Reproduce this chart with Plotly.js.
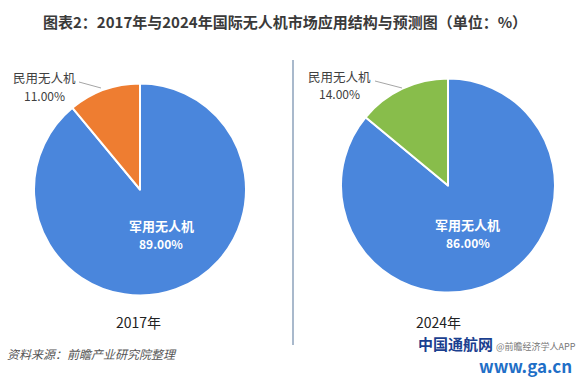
<!DOCTYPE html>
<html>
<head>
<meta charset="utf-8">
<script src="https://cdn.plot.ly/plotly-3.0.1.min.js"></script>
<style>html,body{margin:0;padding:0;background:#fff;}#chart{width:580px;height:378px;}</style>
</head>
<body>
<div id="chart"></div>
<script>
// ---- data ----
const labels = ['军用无人机', '民用无人机'];
const years = ['2017年', '2024年'];
const values2017 = [89, 11];
const values2024 = [86, 14];
const chartTitle = '图表2：2017年与2024年国际无人机市场应用结构与预测图（单位：%）';
const sourceText = '资料来源：前瞻产业研究院整理';

const W = 580, H = 378;
const px = x => x / W;
const py = y => 1 - y / H;
const FONT = '"Noto Sans CJK SC", "Microsoft YaHei", sans-serif';

const blue = '#4a86dc';
const colors2017 = [blue, '#ee7d31'];
const colors2024 = [blue, '#88bd4b'];

function pieTrace(values, colors, dom) {
  return {
    type: 'pie',
    labels: labels,
    values: values,
    sort: false,
    direction: 'clockwise',
    rotation: 0,
    textinfo: 'none',
    hoverinfo: 'none',
    marker: { colors: colors, line: { color: '#ffffff', width: 2 } },
    domain: dom,
    showlegend: false
  };
}

const data = [
  pieTrace(values2017, colors2017, { x: [px(34), px(246)], y: [py(296), py(83)] }),
  pieTrace(values2024, colors2024, { x: [px(341), px(555)], y: [py(293), py(78)] })
];

const pct = v => v.toFixed(2) + '%';

function ann(text, x, y, size, color, extra) {
  return Object.assign({
    text: text, x: px(x), y: py(y), xref: 'paper', yref: 'paper',
    xanchor: 'center', yanchor: 'middle', showarrow: false,
    font: { family: FONT, size: size, color: color }
  }, extra || {});
}

const annotations = [
  ann('<b>' + chartTitle + '</b>', 285, 21, 15, '#3a3a3a'),
  ann(labels[1], 44, 78, 12.5, '#404040'),
  ann(pct(values2017[1]), 44, 95, 12, '#404040'),
  ann('<b>' + labels[0] + '</b>', 161, 225, 13, '#ffffff'),
  ann('<b>' + pct(values2017[0]) + '</b>', 161, 243, 12, '#ffffff'),
  ann(labels[1], 340, 76, 12.5, '#404040'),
  ann(pct(values2024[1]), 340, 94, 12, '#404040'),
  ann('<b>' + labels[0] + '</b>', 468, 224, 13, '#ffffff'),
  ann('<b>' + pct(values2024[0]) + '</b>', 468, 242, 12, '#ffffff'),
  ann(years[0], 138, 322, 14, '#222222'),
  ann(years[1], 438, 322, 14, '#222222'),
  ann('<i>' + sourceText + '</i>', 5, 353, 12, '#555555', { xanchor: 'left' }),
  ann('<b>中国通航网</b>', 416, 343, 15, '#1b3f8f', { xanchor: 'left' }),
  ann('@前瞻经济学人APP', 578, 346, 9, '#777777', { xanchor: 'right' }),
  ann('<b>www.ga.cn</b>', 574, 365, 17, '#1f6fc7', { xanchor: 'right' })
];

const shapes = [
  { type: 'line', xref: 'paper', yref: 'paper', x0: px(293), x1: px(293), y0: py(60), y1: py(345),
    line: { color: '#a9b9cc', width: 2 } },
  { type: 'line', xref: 'paper', yref: 'paper', x0: px(79), x1: px(101), y0: py(82), y1: py(88),
    line: { color: '#a6a6a6', width: 1 } },
  { type: 'line', xref: 'paper', yref: 'paper', x0: px(375), x1: px(402), y0: py(81), y1: py(88),
    line: { color: '#a6a6a6', width: 1 } }
];

const layout = {
  width: W, height: H,
  margin: { l: 0, r: 0, t: 0, b: 0 },
  paper_bgcolor: '#ffffff',
  plot_bgcolor: '#ffffff',
  font: { family: FONT },
  annotations: annotations,
  shapes: shapes,
  showlegend: false
};

Plotly.newPlot('chart', data, layout, { displayModeBar: false, staticPlot: true });
</script>
</body>
</html>
